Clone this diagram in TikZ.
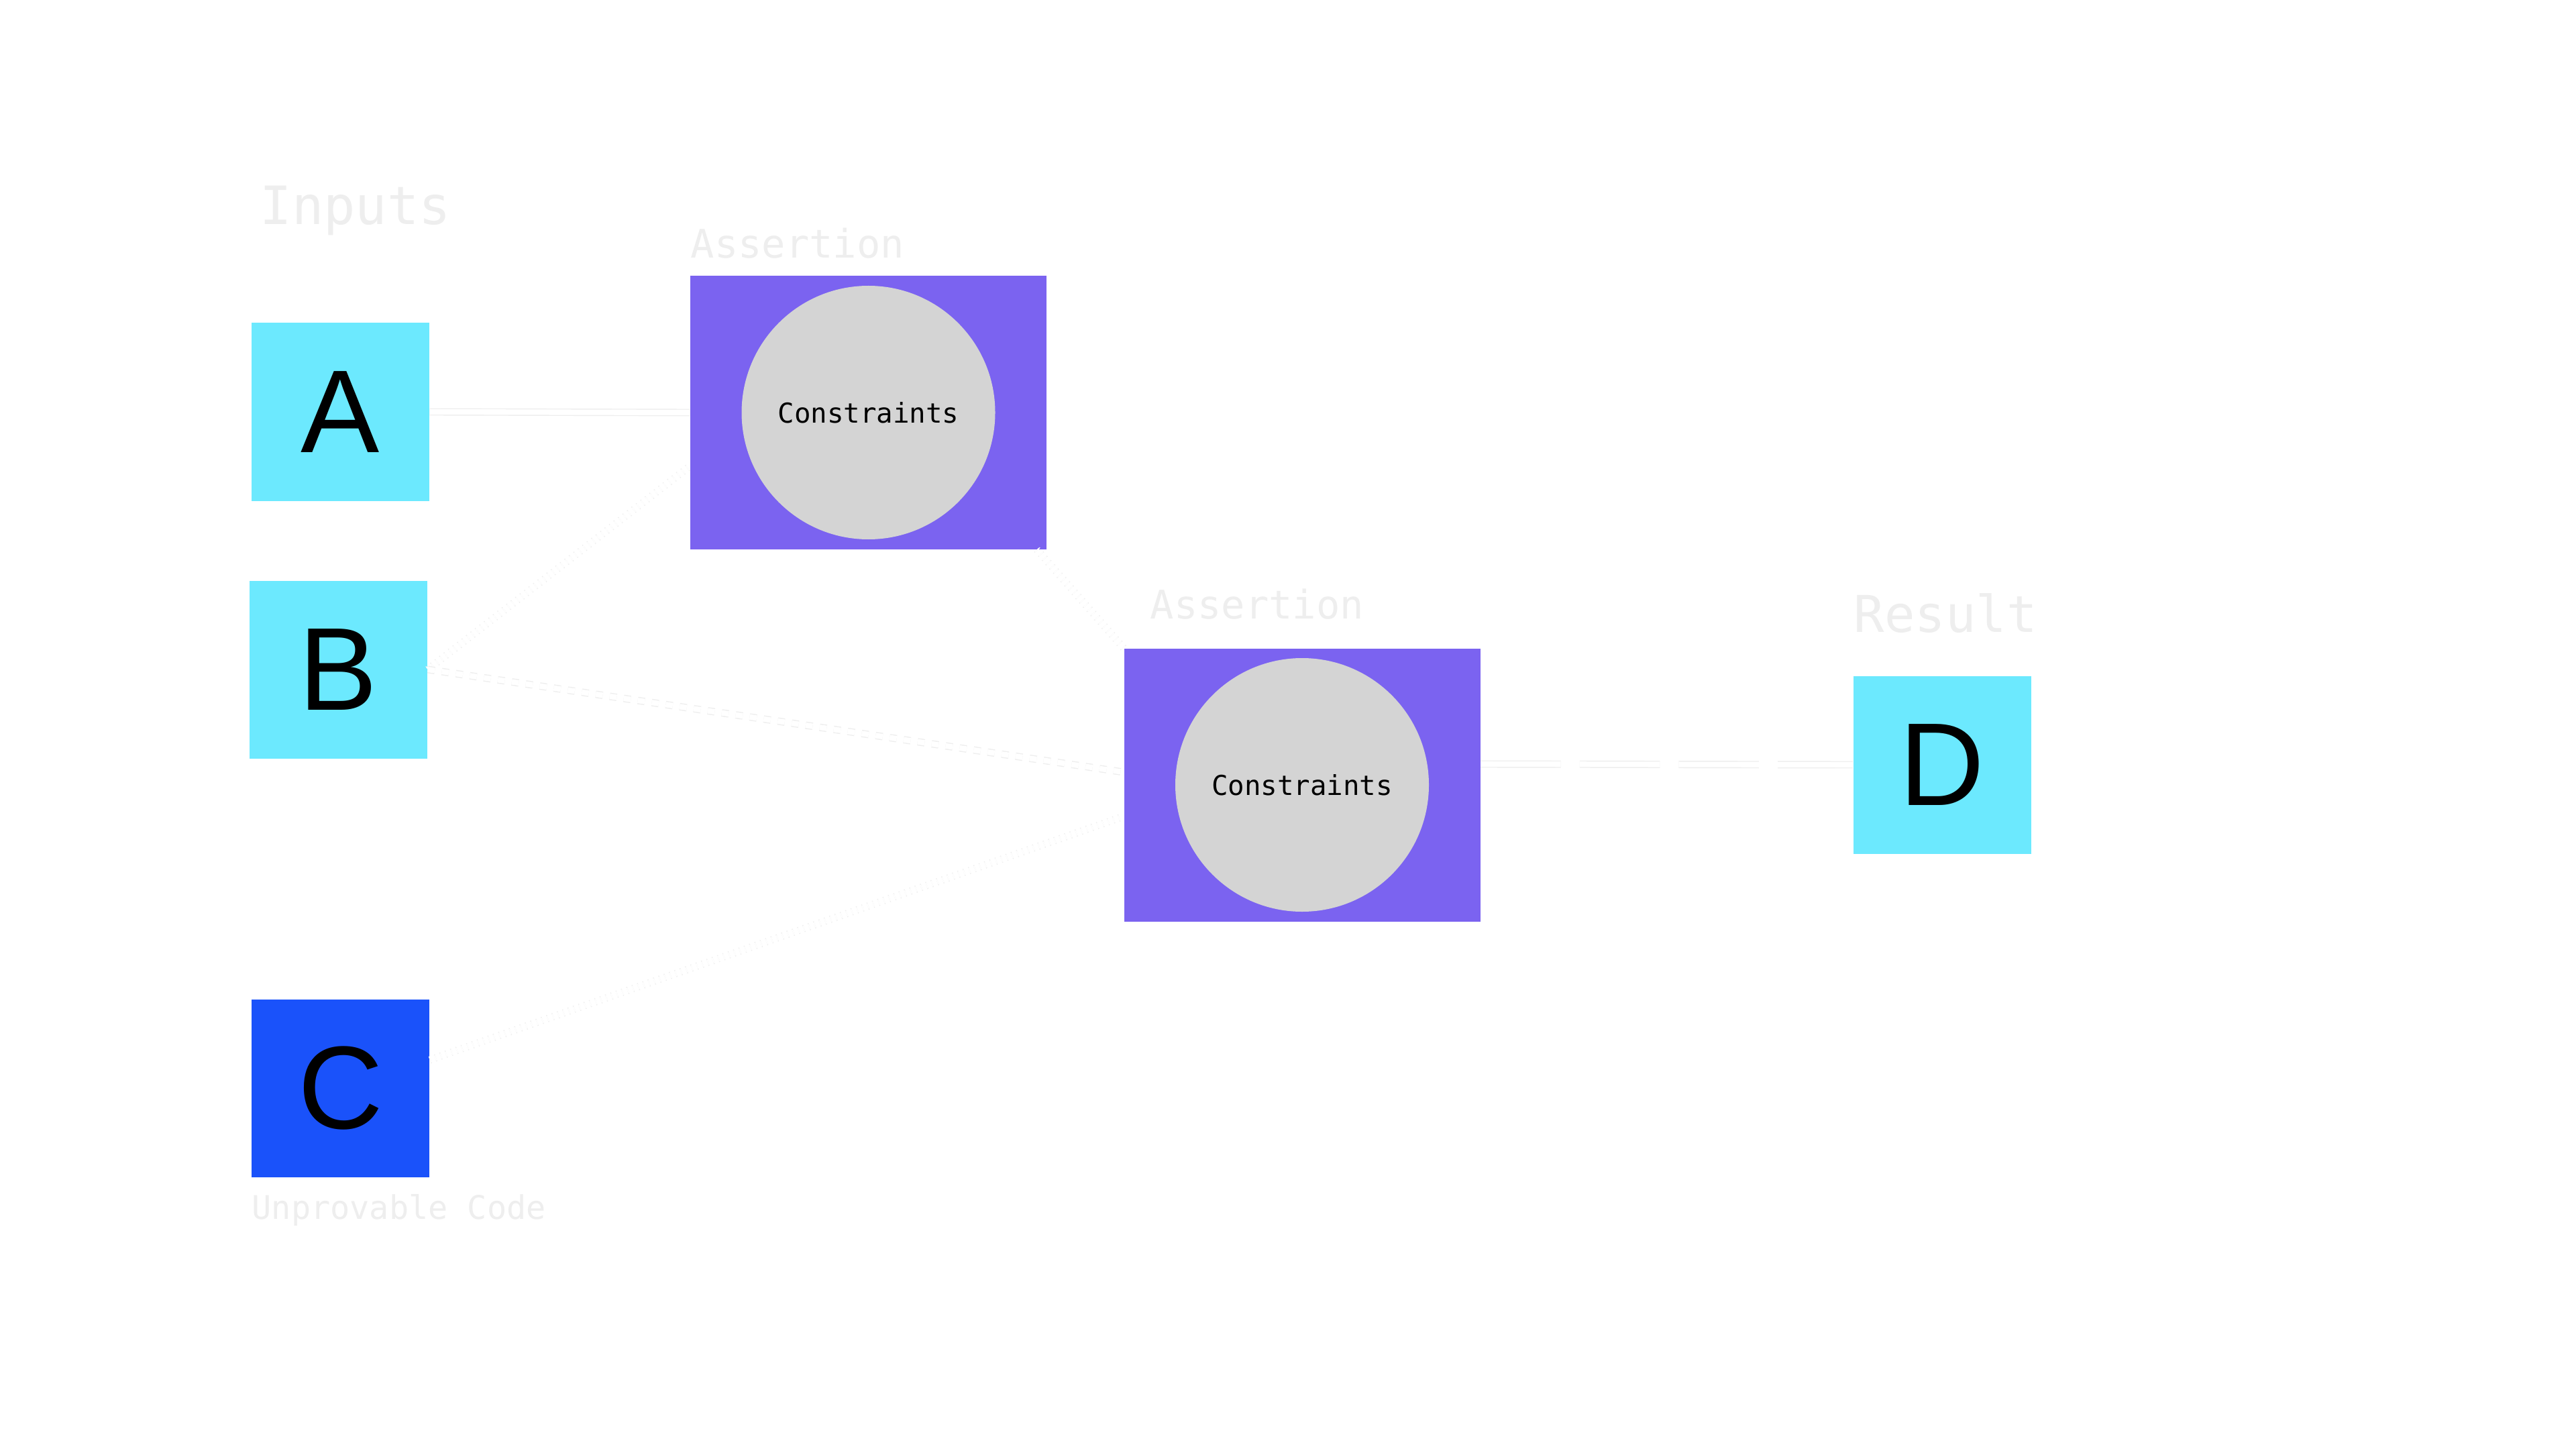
\documentclass[tikz,border=0pt]{standalone}
\usepackage{fontspec}
\setmainfont{Liberation Sans}
\setmonofont{DejaVu Sans Mono}
\usetikzlibrary{calc,positioning}
\definecolor{inputcyan}{HTML}{6CE9FE}
\definecolor{unprovblue}{HTML}{1A52FA}
\definecolor{assertpurple}{HTML}{7B63F0}
\definecolor{constrgray}{HTML}{D4D4D4}
\definecolor{faint}{HTML}{EEEEEE}
\tikzset{
  inbox/.style={fill=inputcyan, minimum size=2.65cm, inner sep=0pt, font=\fontsize{50}{60}\selectfont},
  assertbox/.style={fill=assertpurple, minimum width=5.31cm, minimum height=4.07cm, inner sep=0pt},
  constr/.style={circle, fill=constrgray, minimum size=3.78cm, inner sep=0pt, font=\ttfamily\fontsize{11.6}{14}\selectfont},
  caption/.style={anchor=base west, inner sep=0pt, text=faint, font=\ttfamily\fontsize{#1}{20}\selectfont},
  wire/.style={draw=faint, double=white, double distance=2.3pt, line width=0.4pt},
}

\begin{document}
\begin{tikzpicture}
                      \useasboundingbox (0,0) rectangle (38.4,-21.6);
                      \fill[white] (0,0) rectangle (38.4,-21.6);
                      % inputs and result
                      \node [inbox] (A) at (5.075,-6.14) {A};
                      \node [inbox] (B) at (5.045,-9.98) {B};
                      \node [inbox, fill=unprovblue] (C) at (5.075,-16.22) {C};
                      \node [inbox] (D) at (28.95,-11.40) {D};
                      % assertions
                      \node [assertbox] (as1) at (12.945,-6.15) {};
                      \node [constr] (c1) at (as1.center) {Constraints};
                      \node [assertbox] (as2) at (19.41,-11.70) {};
                      \node [constr] (c2) at (as2.center) {Constraints};
                      % captions
                      \node [caption=22.4] (inl) at (3.87,-3.35) {Inputs};
                      \node [caption=16.7] (asl1) at (10.29,-3.85) {Assertion};
                      \node [caption=16.7] (asl2) at (17.14,-9.22) {Assertion};
                      \node [caption=21.5] (resl) at (27.63,-9.42) {Result};
                      \node [caption=13.8] (unl) at (3.75,-18.17) {Unprovable Code};
                      % links
                      \draw [wire] (A.east) -- (as1.west);
                      \draw [wire, dotted] (B.east) -- ($(as1.west)+(0,-0.8)$);
                      \draw [wire, dashed] (B.east) -- ($(as2.west)+(0,0.19)$);
                      \draw [wire, dotted] ($(C.east)+(0,0.42)$) -- ($(as2.west)+(0,-0.47)$);
                      \draw [wire, dotted] ($(as1.south east)+(-0.15,0)$) -- (as2.north west);
                      \draw [wire, dash pattern=on 34pt off 8pt] ($(as2.east)+(0,0.31)$) -- (D.west);
                  \end{tikzpicture}
\end{document}
